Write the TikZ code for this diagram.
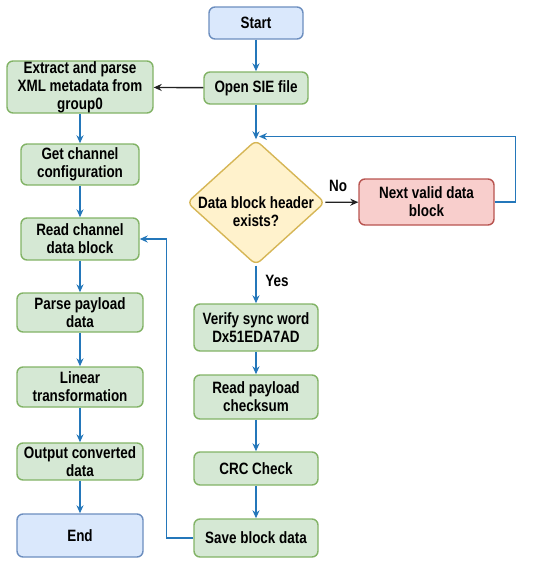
\documentclass[tikz,border=0pt]{standalone}
\usepackage{fontspec}
\setmainfont{Liberation Sans}[FakeStretch=0.82]
\usepackage{tikz}
\usetikzlibrary{arrows.meta}
\usetikzlibrary{shapes.geometric,calc,positioning}

\definecolor{procfill}{HTML}{D5E8D4}
\definecolor{procline}{HTML}{82B366}
\definecolor{termfill}{HTML}{DAE8FC}
\definecolor{termline}{HTML}{6C8EBF}
\definecolor{askfill}{HTML}{FFF2CC}
\definecolor{askline}{HTML}{D6B656}
\definecolor{skipfill}{HTML}{F8CECC}
\definecolor{skipline}{HTML}{B85450}
\definecolor{flowblue}{HTML}{2477BA}
\definecolor{flowgray}{HTML}{222222}

\begin{document}
\begin{tikzpicture}[x=1pt,y=-1pt,
    every node/.style={font=\fontsize{16.4}{18}\selectfont\bfseries,align=center,inner sep=0pt},
    proc/.style={draw=procline,fill=procfill,line width=1.4pt,rounded corners=6pt},
    term/.style={draw=termline,fill=termfill,line width=1.4pt,rounded corners=6pt},
    skip/.style={draw=skipline,fill=skipfill,line width=1.4pt,rounded corners=6pt},
    ask/.style={diamond,draw=askline,fill=askfill,line width=1.4pt,rounded corners=6pt,
      minimum width=138pt,minimum height=125pt},
    flow/.style={draw=flowblue,line width=1.3pt,-{Stealth[length=8pt,width=7pt]}},
    flowk/.style={draw=flowgray,line width=1.4pt,-{Stealth[length=8pt,width=7pt]}}]
      \useasboundingbox (0,0) rectangle (550,565);

      % Colonne droite
      \node[term,minimum width=94pt,minimum height=32pt] (start) at (256,23) {Start};
      \node[proc,minimum width=104pt,minimum height=32pt] (open) at (256,88) {Open SIE file};
      \node[ask,label={[yshift=-9pt]center:{Data block header\\exists?}}] (hdr) at (256,202.5) {};
      \node[skip,minimum width=135pt,minimum height=46pt] (next) at (426.5,202) {Next valid data\\block};
      \node[proc,minimum width=124pt,minimum height=47pt] (verify) at (256,327.5) {Verify sync word\\Dx51EDA7AD};
      \node[proc,minimum width=124pt,minimum height=44pt] (chksum) at (256,397) {Read payload\\checksum};
      \node[proc,minimum width=124pt,minimum height=33pt] (crc) at (256,468.5) {CRC Check};
      \node[proc,minimum width=124pt,minimum height=38pt] (save) at (256,538) {Save block data};

      % Colonne gauche
      \node[proc,minimum width=146pt,minimum height=52pt] (extract) at (80,87) {Extract and parse\\XML metadata from\\group0};
      \node[proc,minimum width=118pt,minimum height=41pt] (getcfg) at (80,164.5) {Get channel\\configuration};
      \node[proc,minimum width=118pt,minimum height=42pt] (readch) at (80,239) {Read channel\\data block};
      \node[proc,minimum width=126pt,minimum height=39pt] (parse) at (80,312.5) {Parse payload\\data};
      \node[proc,minimum width=126pt,minimum height=40pt] (linear) at (80,387) {Linear\\transformation};
      \node[proc,minimum width=126pt,minimum height=37pt] (output) at (80,461.5) {Output converted\\data};
      \node[term,minimum width=126pt,minimum height=43pt] (end) at (80,535.5) {End};

      % Etiquettes
      \node (nolbl) at (338,186) {No};
      \node (yeslbl) at (277,281) {Yes};

      % Fleches
      \coordinate (rejoin) at (259,136.5);
      \draw[flow] (start) -- (open);
      \draw[flowk] (open) -- (extract);
      \draw[flow] (open) -- (hdr.north);
      \draw[flowk] (hdr) -- (next);
      \draw[flow] (next.east) -- ++(21,0) |- (rejoin);
      \draw[flow] (hdr) -- (verify);
      \draw[flow] (verify) -- (chksum);
      \draw[flow] (chksum) -- (crc);
      \draw[flow] (crc) -- (save);
      \draw[flow] (save.west) -- ++(-27,0) |- (readch.east);
      \draw[flow] (extract) -- (getcfg);
      \draw[flow] (getcfg) -- (readch);
      \draw[flow] (readch) -- (parse);
      \draw[flow] (parse) -- (linear);
      \draw[flow] (linear) -- (output);
      \draw[flow] (output) -- (end);
    \end{tikzpicture}
\end{document}
